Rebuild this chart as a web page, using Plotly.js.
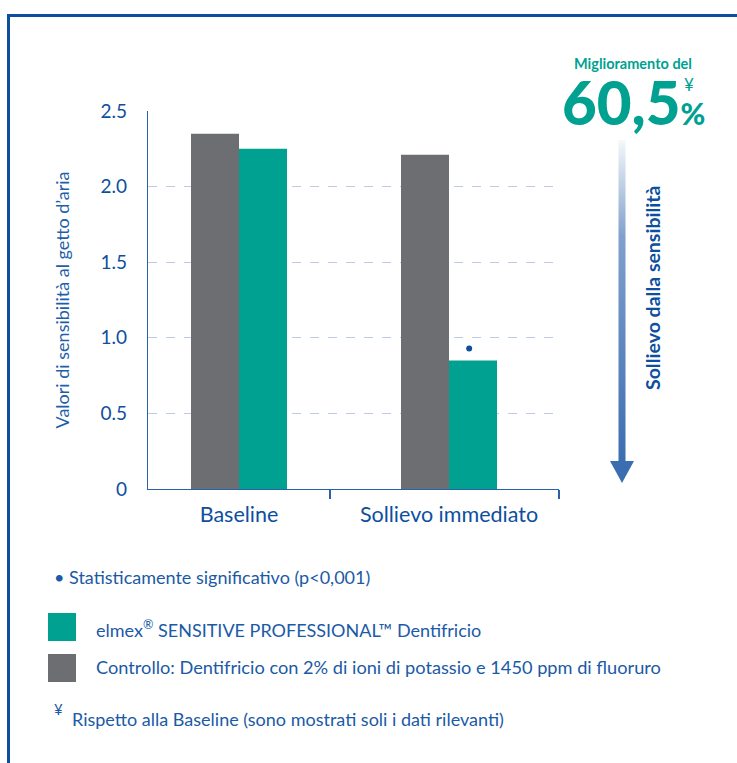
<!DOCTYPE html>
<html>
<head>
<meta charset="utf-8">
<script src="https://cdn.plot.ly/plotly-3.0.1.min.js"></script>
<style>html,body{margin:0;padding:0;background:#fff;}#chart{width:737px;height:763px;}</style>
</head>
<body>
<div id="chart"></div>
<script>
// ---- data ----
const categories = ["Baseline", "Sollievo immediato"];
const controlloValues = [2.35, 2.21];
const elmexValues = [2.25, 0.85];
const significant = [false, true];
const yTickVals = [0, 0.5, 1.0, 1.5, 2.0, 2.5];
const yTickText = ["0", "0.5", "1.0", "1.5", "2.0", "2.5"];
const improvementText = "60,5";
const seriesNames = ["elmex<sup>®</sup> SENSITIVE PROFESSIONAL™ Dentifricio",
                     "Controllo: Dentifricio con 2% di ioni di potassio e 1450 ppm di fluoruro"];

// ---- styling / layout helpers ----
const W = 737, H = 763;
const L = 148, R = 559, T = 111, B = 489;
const px = x => (x - L) / (R - L);
const py = y => (B - y) / (B - T);
const TEAL = "#00a190", GREY = "#6d6e71", BLUE = "#0d4f9e", TXT = "#1a5aa6";
const FONT = "Lato, 'Open Sans', sans-serif";

const catIdx = categories.map((c, i) => i);
const barW = 48 / 210;
const xRange = [-91 / 210, 320 / 210];

const traces = [
  { type: "bar", name: "Controllo", x: catIdx, y: controlloValues,
    marker: { color: GREY }, hoverinfo: "y" },
  { type: "bar", name: "elmex", x: catIdx, y: elmexValues,
    marker: { color: TEAL }, hoverinfo: "y" },
  { type: "scatter", mode: "markers", showlegend: false, hoverinfo: "skip",
    x: catIdx.filter(i => significant[i]).map(i => i + barW * 0.42),
    y: catIdx.filter(i => significant[i]).map(i => elmexValues[i] + 0.08),
    marker: { color: BLUE, size: 6 } }
];

const arrowSvg = '<svg xmlns="http://www.w3.org/2000/svg" width="24" height="344" viewBox="0 0 24 344">' +
  '<defs><linearGradient id="g" x1="0" y1="0" x2="0" y2="1">' +
  '<stop offset="0" stop-color="#3b6db1" stop-opacity="0.05"/>' +
  '<stop offset="0.3" stop-color="#3b6db1" stop-opacity="0.65"/>' +
  '<stop offset="1" stop-color="#3b6db1" stop-opacity="1"/></linearGradient></defs>' +
  '<rect x="8.5" y="0" width="7" height="323" fill="url(#g)"/>' +
  '<polygon points="0,321 24,321 12,343" fill="#3b6db1"/></svg>';

const ann = (text, x, y, opts) => Object.assign({
  text: text, xref: "paper", yref: "paper", x: px(x), y: py(y),
  showarrow: false, font: { family: FONT, size: 18, color: TXT }
}, opts || {});

const annotations = [
  ann("Miglioramento del", 633, 63, { xanchor: "center", yanchor: "middle",
    font: { family: FONT, size: 14.5, color: TEAL, weight: "bold" } }),
  ann(improvementText + "<span style='font-size:30px'>%</span>", 560, 140, { xanchor: "left", yanchor: "bottom",
    font: { family: FONT, size: 60, color: TEAL, weight: 900 } }),
  ann("¥", 689, 84, { xanchor: "center", yanchor: "middle",
    font: { family: FONT, size: 17, color: TEAL } }),
  ann("Sollievo dalla sensibilità", 652, 288, { textangle: -90, xanchor: "center", yanchor: "middle",
    font: { family: FONT, size: 19.5, color: BLUE, weight: "bold" } }),
  ann("• Statisticamente significativo (p<0,001)", 52, 577, { xanchor: "left", yanchor: "middle" }),
  ann(seriesNames[0], 94, 629, { xanchor: "left", yanchor: "middle" }),
  ann(seriesNames[1], 94, 667, { xanchor: "left", yanchor: "middle", font: { family: FONT, size: 18.2, color: TXT } }),
  ann("¥", 58, 709, { xanchor: "center", yanchor: "middle", font: { family: FONT, size: 15, color: TXT } }),
  ann("Rispetto alla Baseline (sono mostrati soli i dati rilevanti)", 70, 719, { xanchor: "left", yanchor: "middle" })
];

const shapes = [
  { type: "rect", xref: "paper", yref: "paper", x0: px(48), x1: px(76), y0: py(613), y1: py(641),
    fillcolor: TEAL, line: { width: 0 } },
  { type: "rect", xref: "paper", yref: "paper", x0: px(48), x1: px(76), y0: py(654), y1: py(682),
    fillcolor: GREY, line: { width: 0 } },
  // frame
  { type: "line", xref: "paper", yref: "paper", x0: px(7), x1: px(740), y0: py(15.5), y1: py(15.5),
    line: { color: BLUE, width: 3 } },
  { type: "line", xref: "paper", yref: "paper", x0: px(8.5), x1: px(8.5), y0: py(14), y1: py(770),
    line: { color: BLUE, width: 3 } }
];

const layout = {
  width: W, height: H,
  margin: { l: L, r: W - R, t: T, b: H - B, pad: 0 },
  paper_bgcolor: "#fff", plot_bgcolor: "#fff",
  showlegend: false,
  barmode: "group", bargap: 1 - 2 * barW, bargroupgap: 0,
  font: { family: FONT, color: TXT },
  xaxis: {
    type: "linear", range: xRange, tickmode: "array", tickvals: catIdx, ticktext: categories,
    ticks: "", showgrid: false, zeroline: false, showline: true, linecolor: "#2a62aa", linewidth: 1.2,
    tickfont: { family: FONT, size: 21.5, color: BLUE }, ticklabelstandoff: 6, fixedrange: true,
    minor: { tickmode: "array", tickvals: [(330 - 239) / 210, (559 - 239) / 210], ticks: "outside",
             ticklen: 9, tickcolor: "#2a62aa", tickwidth: 1.2, showgrid: false }
  },
  yaxis: {
    range: [0, 2.5], tickmode: "array", tickvals: yTickVals, ticktext: yTickText,
    ticks: "", showgrid: true, gridcolor: "#bccde3", griddash: "dash", gridwidth: 1,
    zeroline: false, showline: true, linecolor: "#2a62aa", linewidth: 1.2,
    tickfont: { family: FONT, size: 19, color: BLUE }, ticklabelstandoff: 16,
    title: { text: "Valori di sensibilità al getto d’aria", standoff: 26,
             font: { family: FONT, size: 18, color: "#1f5faa" } },
    fixedrange: true
  },
  annotations: annotations,
  shapes: shapes,
  images: [{ source: "data:image/svg+xml;charset=utf-8," + encodeURIComponent(arrowSvg),
    xref: "paper", yref: "paper", x: px(610), y: py(140), sizex: px(634) - px(610), sizey: py(140) - py(484),
    xanchor: "left", yanchor: "top", sizing: "stretch", layer: "above" }]
};

Plotly.newPlot("chart", traces, layout, { displayModeBar: false, staticPlot: true });
</script>
</body>
</html>
